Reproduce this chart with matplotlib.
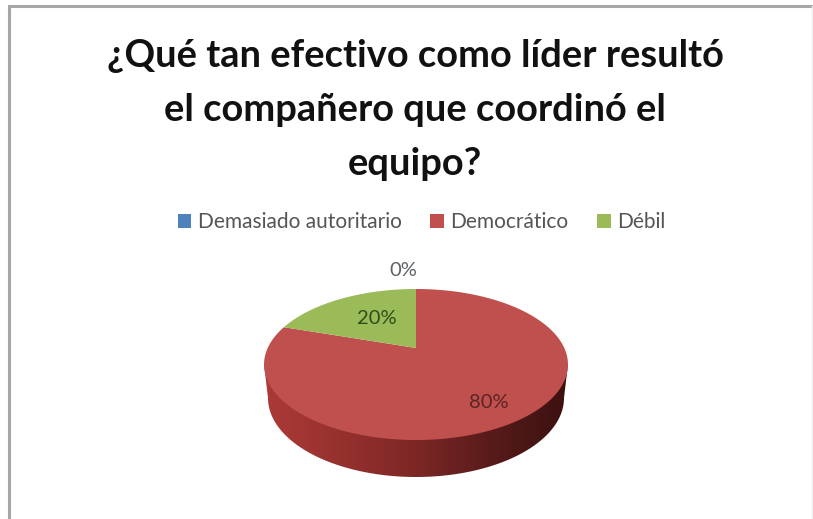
import numpy as np
import matplotlib
matplotlib.use("Agg")
import matplotlib.pyplot as plt
from matplotlib.colors import LinearSegmentedColormap
from matplotlib.patches import Patch, Polygon

title = "¿Qué tan efectivo como líder resultó\nel compañero que coordinó el\nequipo?"
categories = ["Demasiado autoritario", "Democrático", "Débil"]
values = [0, 80, 20]
colors = ["#4f81bd", "#c0504d", "#9bbb59"]
side_colors = ["#ac3a37", "#96312e", "#7c2725", "#571b1a", "#3a1110"]

plt.rcParams["font.family"] = ["Lato", "DejaVu Sans"]

# pixel coordinates, y pointing down
fig = plt.figure(figsize=(8.13, 5.19), dpi=100)
ax = fig.add_axes([0, 0, 1, 1])
ax.set_xlim(0, 813)
ax.set_ylim(519, 0)
ax.axis("off")

# slide frame
ax.plot([9, 9, 811], [519, 6, 6], color="#a6a6a6", lw=2.2, solid_joinstyle="miter")
ax.plot([811.5, 811.5], [6, 519], color="#eeeeee", lw=1)

ax.text(415, 110, title, ha="center", va="center", fontsize=27.4, fontweight="bold",
        color="#111111", linespacing=1.72)

# tilted disc: unit circle seen in perspective
cx, cy = 416, 348
sx, sy, persp = 148.3, 71.9, 0.2185


def disc_point(t):
    # t is the clockwise angle from twelve o'clock
    u, v = np.sin(t), np.cos(t)
    d = 1 + persp * v
    return cx + sx * u / d, cy - sy * v / d


# side wall, shaded left to right
low = np.linspace(np.pi, 0, 181)
wall_x = 416 + 148 * np.cos(low)
wall_y = 398 + 79 * np.sin(low)
wall = Polygon(np.column_stack([np.r_[264, wall_x, 568], np.r_[364, wall_y, 364]]),
               closed=True, transform=ax.transData, fc="none", ec="none")
ax.add_patch(wall)
cmap = LinearSegmentedColormap.from_list("wall", side_colors)
grad = ax.imshow(np.linspace(0, 1, 256).reshape(1, -1), cmap=cmap, aspect="auto",
                 extent=[264, 568, 480, 340], zorder=2)
grad.set_clip_path(wall)
ax.set_xlim(0, 813)
ax.set_ylim(519, 0)

# top face slices, clockwise from twelve o'clock
fractions = np.array(values) / sum(values)
edges = np.r_[0, np.cumsum(fractions)] * 2 * np.pi
for start, stop, color in zip(edges[:-1], edges[1:], colors):
    if stop == start:
        continue
    a = np.linspace(start, stop, 200)
    x, y = disc_point(a)
    ax.add_patch(Polygon(np.column_stack([np.r_[cx, x], np.r_[cy, y]]), closed=True,
                         fc=color, ec="none", zorder=3))

label_pos = [(403, 271), (489, 402), (377, 319)]
label_colors = ["#5c6266", "#5a2322", "#2f4d18"]
for val, (lx, ly), col in zip(values, label_pos, label_colors):
    ax.text(lx, ly, f"{val}%", ha="center", va="center", fontsize=14.5, color=col, zorder=4)

handles = [Patch(fc=c, ec="none") for c in colors]
fig.legend(handles, categories, loc="center", bbox_to_anchor=(421.5 / 813, 1 - 222 / 519),
           ncol=3, frameon=False, fontsize=15, labelcolor="#555555",
           handlelength=0.65, handleheight=0.65, handletextpad=0.3, columnspacing=1.38)

fig.savefig("out.png", dpi=100)
